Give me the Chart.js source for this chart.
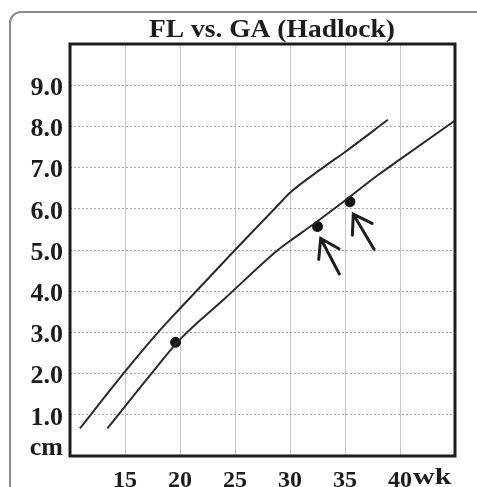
<!DOCTYPE html>
<html>
<head>
<meta charset="utf-8">
<script src="https://cdn.jsdelivr.net/npm/chart.js@4/dist/chart.umd.min.js"></script>
<style>
    html, body {
        margin: 0;
        padding: 0;
        background: #ffffff;
        overflow: hidden;
    }
    .page {
        position: relative;
        width: 477px;
        height: 487px;
        overflow: hidden;
    }
    .frame {
        position: absolute;
        left: 9px;
        top: 11px;
        width: 600px;
        height: 600px;
        border: 2px solid #8c8c8c;
        border-radius: 12px;
    }
    .chart-box {
        position: absolute;
        left: 0;
        top: 0;
        width: 477px;
        height: 487px;
    }
</style>
</head>
<body>
<div class="page">
    <div class="frame"></div>
    <div class="chart-box">
        <canvas id="flChart" width="477" height="487"></canvas>
    </div>
</div>

<script>
// upper limit curve (weeks, cm)
const upperWeeks = [10.9, 14.85, 18.0, 20.0, 25.0, 28.6, 30.0, 33.0, 35.0, 38.9];
const upperCm = [0.67, 2.0, 3.0, 3.58, 5.0, 6.0, 6.39, 7.0, 7.38, 8.16];

// lower limit curve
const lowerWeeks = [13.4, 17.4, 20.0, 24.1, 28.9, 30.0, 32.0, 35.0, 38.0, 40.0, 45.0];
const lowerCm = [0.67, 2.0, 2.83, 3.83, 5.0, 5.22, 5.6, 6.2, 6.82, 7.2, 8.14];

// measured points
const dotWeeks = [19.6, 32.5, 35.45];
const dotCm = [2.76, 5.57, 6.17];

// arrows (tip -> tail)
const arrowTipWeeks = [32.79, 35.75];
const arrowTipCm = [5.28, 5.87];
const arrowTailWeeks = [34.48, 37.64];
const arrowTailCm = [4.42, 5.02];

const xTicks = [15, 20, 25, 30, 35, 40];
const yTicks = [1, 2, 3, 4, 5, 6, 7, 8, 9];

const chartTitle = "FL vs. GA (Hadlock)";
const yUnit = "cm";
const xUnit = "wk";

const serif = "'Liberation Serif', 'DejaVu Serif', serif";
const ink = "#1c1c1c";

function toPoints(xs, ys) {
    return xs.map((x, i) => ({ x: x, y: ys[i] }));
}

const extras = {
    id: "extras",
    afterDraw(chart) {
        const ctx = chart.ctx;
        const area = chart.chartArea;
        const xs = chart.scales.x;
        const ys = chart.scales.y;

        ctx.save();

        // plot frame
        ctx.strokeStyle = ink;
        ctx.lineWidth = 3;
        ctx.strokeRect(area.left, area.top, area.right - area.left, area.bottom - area.top);

        // arrows
        ctx.lineWidth = 3;
        ctx.lineCap = "round";
        arrowTipWeeks.forEach((w, i) => {
            const tx = xs.getPixelForValue(w);
            const ty = ys.getPixelForValue(arrowTipCm[i]);
            const sx = xs.getPixelForValue(arrowTailWeeks[i]);
            const sy = ys.getPixelForValue(arrowTailCm[i]);
            const ang = Math.atan2(sy - ty, sx - tx);
            const head = 21;
            const spread = 33 * Math.PI / 180;

            ctx.beginPath();
            ctx.moveTo(sx, sy);
            ctx.lineTo(tx, ty);
            ctx.moveTo(tx + head * Math.cos(ang - spread), ty + head * Math.sin(ang - spread));
            ctx.lineTo(tx, ty);
            ctx.lineTo(tx + head * Math.cos(ang + spread), ty + head * Math.sin(ang + spread));
            ctx.stroke();
        });

        // title
        ctx.fillStyle = ink;
        ctx.font = "bold 25px " + serif;
        ctx.textAlign = "center";
        ctx.textBaseline = "alphabetic";
        ctx.save();
        ctx.translate(272, 37);
        ctx.scale(1.1, 1);
        ctx.fillText(chartTitle, 0, 0);
        ctx.restore();

        // unit labels
        ctx.font = "bold 26px " + serif;
        ctx.textAlign = "right";
        ctx.fillText(yUnit, area.left - 7, area.bottom - 1);

        ctx.font = "bold 24px " + serif;
        ctx.textAlign = "left";
        ctx.textBaseline = "top";
        ctx.save();
        ctx.translate(xs.getPixelForValue(40) + 13, area.bottom + 10);
        ctx.scale(1.25, 1);
        ctx.fillText(xUnit, 0, 0);
        ctx.restore();

        ctx.restore();
    }
};

const ctx = document.getElementById("flChart").getContext("2d");

new Chart(ctx, {
    type: "line",
    data: {
        datasets: [
            {
                label: "upper",
                data: toPoints(upperWeeks, upperCm),
                borderColor: "#2a2a2a",
                borderWidth: 2,
                pointRadius: 0,
                cubicInterpolationMode: "monotone",
                fill: false
            },
            {
                label: "lower",
                data: toPoints(lowerWeeks, lowerCm),
                borderColor: "#2a2a2a",
                borderWidth: 2,
                pointRadius: 0,
                cubicInterpolationMode: "monotone",
                fill: false
            },
            {
                type: "scatter",
                label: "measured",
                data: toPoints(dotWeeks, dotCm),
                backgroundColor: "#111111",
                borderColor: "#111111",
                pointRadius: 5,
                showLine: false
            }
        ]
    },
    options: {
        responsive: false,
        animation: false,
        devicePixelRatio: 1,
        layout: {
            padding: { top: 44, right: 22, left: 0, bottom: 0 }
        },
        plugins: {
            legend: { display: false },
            title: { display: false },
            tooltip: { enabled: false }
        },
        scales: {
            x: {
                type: "linear",
                min: 10,
                max: 45,
                afterFit: scale => { scale.height = 31; },
                afterBuildTicks: scale => {
                    scale.ticks = [10].concat(xTicks, [45]).map(v => ({ value: v }));
                },
                ticks: {
                    color: ink,
                    padding: 10,
                    maxRotation: 0,
                    autoSkip: false,
                    font: { family: serif, size: 24, weight: "bold" },
                    callback: v => (xTicks.includes(v) ? String(v) : "")
                },
                grid: {
                    color: "#c6c6c6",
                    lineWidth: 1,
                    drawTicks: false
                },
                border: { display: false }
            },
            y: {
                min: 0,
                max: 10,
                afterFit: scale => { scale.width = 70; },
                afterBuildTicks: scale => {
                    scale.ticks = [0].concat(yTicks, [10]).map(v => ({ value: v }));
                },
                ticks: {
                    color: ink,
                    padding: 7,
                    labelOffset: 3,
                    autoSkip: false,
                    font: { family: serif, size: 26, weight: "bold" },
                    callback: v => (yTicks.includes(v) ? v.toFixed(1) : "")
                },
                grid: {
                    color: "#a8a8a8",
                    lineWidth: 1,
                    drawTicks: false
                },
                border: { display: false, dash: [2, 2] }
            }
        }
    },
    plugins: [extras]
});
</script>
</body>
</html>
